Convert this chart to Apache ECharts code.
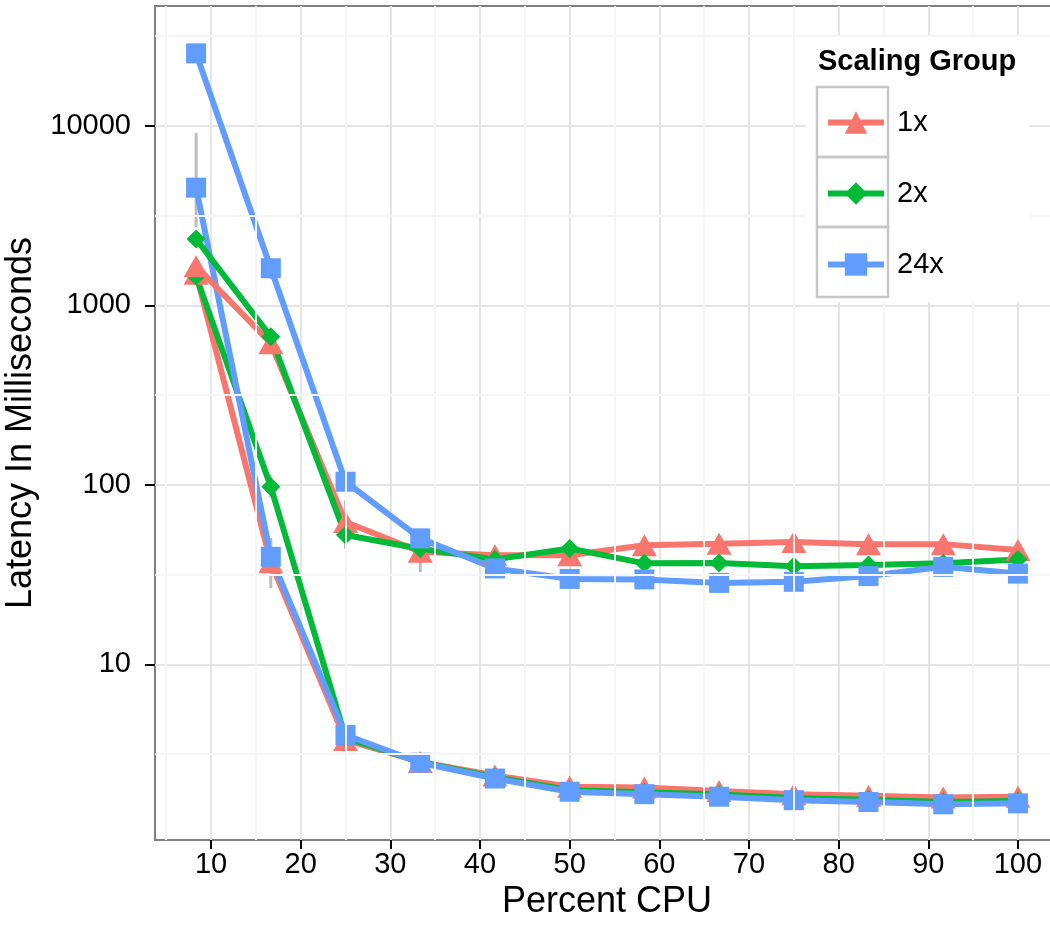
<!DOCTYPE html>
<html>
<head>
<meta charset="utf-8">
<script src="https://cdn.jsdelivr.net/npm/echarts@6/dist/echarts.min.js"></script>
<style>
  html, body { margin: 0; padding: 0; background: #ffffff; }
  #chart { width: 1050px; height: 928px; }
</style>
</head>
<body>
<div id="chart"></div>
<script>
// Percent CPU allotted (k/12 of a core)
const cpuPercent = [8.333, 16.667, 25, 33.333, 41.667, 50, 58.333, 66.667, 75, 83.333, 91.667, 100];

// Scaling groups
const groupNames = ['1x', '2x', '24x'];

// Upper latency curves (ms)
const upper1x  = [1650, 614, 62, 42.4, 40.5, 40.5, 46, 47, 48, 46.7, 46.7, 43.3];
const upper2x  = [2340, 668, 52.5, 44, 38.4, 44.2, 36.5, 36.7, 35.2, 35.7, 36.5, 38.4];
const upper24x = [25300, 1607, 104, 50.3, 34.2, 29.9, 29.7, 28.4, 28.8, 31, 34.9, 32];

// Lower latency curves (ms)
const lower1x  = [1500, 37, 3.79, 2.86, 2.4, 2.08, 2.06, 1.97, 1.89, 1.85, 1.81, 1.83];
const lower2x  = [1450, 97.5, 3.9, 2.85, 2.35, 1.99, 1.94, 1.88, 1.8, 1.76, 1.71, 1.73];
const lower24x = [4520, 39.7, 4.04, 2.83, 2.31, 1.95, 1.89, 1.83, 1.75, 1.71, 1.66, 1.68];

// Error ranges: [percent CPU, low, high]
const errorRanges = [
  [8.333, 2730, 9100],
  [16.667, 1400, 1700],
  [16.667, 26.6, 50.5],
  [16.667, 85, 113],
  [25, 43.9, 81.8],
  [33.333, 32.6, 46],
  [50, 38, 41.5],
  [91.667, 30.7, 38]
];

// Axis ticks and grid lines
const xTicks = [10, 20, 30, 40, 50, 60, 70, 80, 90, 100];
const yTicks = [10, 100, 1000, 10000];
const xMinorGrid = [5, 15, 25, 35, 45, 55, 65, 75, 85, 95];
const yMinorGrid = [3.1623, 31.623, 316.23, 3162.3, 31623];

const colors = { '1x': '#F8766D', '2x': '#00BA38', '24x': '#619CFF' };
const symbols = {
  '1x': { symbol: 'triangle', size: [25, 22] },
  '2x': { symbol: 'diamond', size: [19, 19] },
  '24x': { symbol: 'rect', size: [20, 20] }
};

const FONT = '"Liberation Sans", Arial, Helvetica, sans-serif';

function lineSeries(name, values) {
  const c = colors[name];
  return {
    type: 'line',
    name: name,
    data: cpuPercent.map((x, i) => [x, values[i]]),
    symbol: symbols[name].symbol,
    symbolSize: symbols[name].size,
    showSymbol: true,
    lineStyle: { color: c, width: 6 },
    itemStyle: { color: c },
    emphasis: { disabled: true },
    animation: false,
    z: 3
  };
}

const option = {
  animation: false,
  grid: {
    left: 155, width: 904, top: 6, height: 834,
    outerBoundsMode: 'none',
    containLabel: false,
    show: true, borderColor: '#7f7f7f', borderWidth: 2, backgroundColor: '#ffffff'
  },
  xAxis: {
    type: 'value',
    min: 3.75, max: 104.58,
    name: 'Percent CPU',
    nameLocation: 'middle',
    nameGap: 42,
    nameTextStyle: { fontFamily: FONT, fontSize: 36, color: '#000' },
    axisLine: { show: false },
    axisTick: { show: true, length: 9, lineStyle: { color: '#000', width: 2 }, customValues: xTicks },
    axisLabel: { fontFamily: FONT, fontSize: 29, color: '#000', margin: 10, customValues: xTicks },
    splitLine: { show: true, lineStyle: { color: '#e5e5e5', width: 2 } }
  },
  yAxis: {
    type: 'log',
    logBase: 10,
    min: 1.05, max: 46450,
    name: 'Latency In Milliseconds',
    nameLocation: 'middle',
    nameGap: 100,
    nameTextStyle: { fontFamily: FONT, fontSize: 36, color: '#000' },
    axisLine: { show: false },
    axisTick: { show: true, length: 10, lineStyle: { color: '#000', width: 2 }, customValues: yTicks },
    axisLabel: {
      fontFamily: FONT, fontSize: 29, color: '#000', margin: 24, customValues: yTicks,
      formatter: v => (yTicks.indexOf(Math.round(v)) >= 0 ? String(Math.round(v)) : '')
    },
    splitLine: { show: true, lineStyle: { color: '#e5e5e5', width: 2 } }
  },
  legend: {
    data: groupNames,
    orient: 'vertical',
    left: 825, top: 108,
    padding: 0,
    itemWidth: 56, itemHeight: 28, itemGap: 42,
    lineStyle: { width: 6 },
    textStyle: { fontFamily: FONT, fontSize: 29, color: '#000', lineHeight: 28, padding: [0, 0, 0, 8] },
    selectedMode: false,
    z: 20
  },
  graphic: {
    elements: [
      { type: 'rect', z: 10, silent: true, shape: { x: 806, y: 37, width: 224, height: 265 }, style: { fill: '#ffffff' } },
      { type: 'text', z: 11, silent: true, style: { x: 818, y: 62, text: 'Scaling Group', font: 'bold 29px ' + FONT, fill: '#000', textVerticalAlign: 'middle' } },
      { type: 'rect', z: 11, silent: true, shape: { x: 817, y: 87, width: 71, height: 70 }, style: { fill: 'none', stroke: '#c8c8c8', lineWidth: 2.5 } },
      { type: 'rect', z: 11, silent: true, shape: { x: 817, y: 157, width: 71, height: 70 }, style: { fill: 'none', stroke: '#c8c8c8', lineWidth: 2.5 } },
      { type: 'rect', z: 11, silent: true, shape: { x: 817, y: 227, width: 71, height: 70 }, style: { fill: 'none', stroke: '#c8c8c8', lineWidth: 2.5 } }
    ]
  },
  series: [
    {
      // faint minor grid lines
      type: 'line',
      name: 'minor-grid',
      data: [],
      silent: true,
      z: 1,
      markLine: {
        silent: true,
        symbol: 'none',
        label: { show: false },
        animation: false,
        lineStyle: { color: '#f5f5f5', width: 2, type: 'solid' },
        data: xMinorGrid.map(v => ({ xAxis: v })).concat(yMinorGrid.map(v => ({ yAxis: v })))
      }
    },
    {
      type: 'custom',
      name: 'error',
      data: errorRanges,
      encode: { x: 0, y: [1, 2] },
      silent: true,
      z: 2,
      renderItem: function (params, api) {
        const x = api.value(0);
        const p1 = api.coord([x, api.value(1)]);
        const p2 = api.coord([x, api.value(2)]);
        return {
          type: 'line',
          shape: { x1: p1[0], y1: p1[1], x2: p2[0], y2: p2[1] },
          style: { stroke: '#bdbdbd', lineWidth: 3 }
        };
      }
    },
    lineSeries('1x', lower1x),
    lineSeries('2x', lower2x),
    lineSeries('24x', lower24x),
    lineSeries('1x', upper1x),
    lineSeries('2x', upper2x),
    lineSeries('24x', upper24x)
  ]
};

const chart = echarts.init(document.getElementById('chart'), null, { renderer: 'canvas' });
chart.setOption(option);
</script>
</body>
</html>
